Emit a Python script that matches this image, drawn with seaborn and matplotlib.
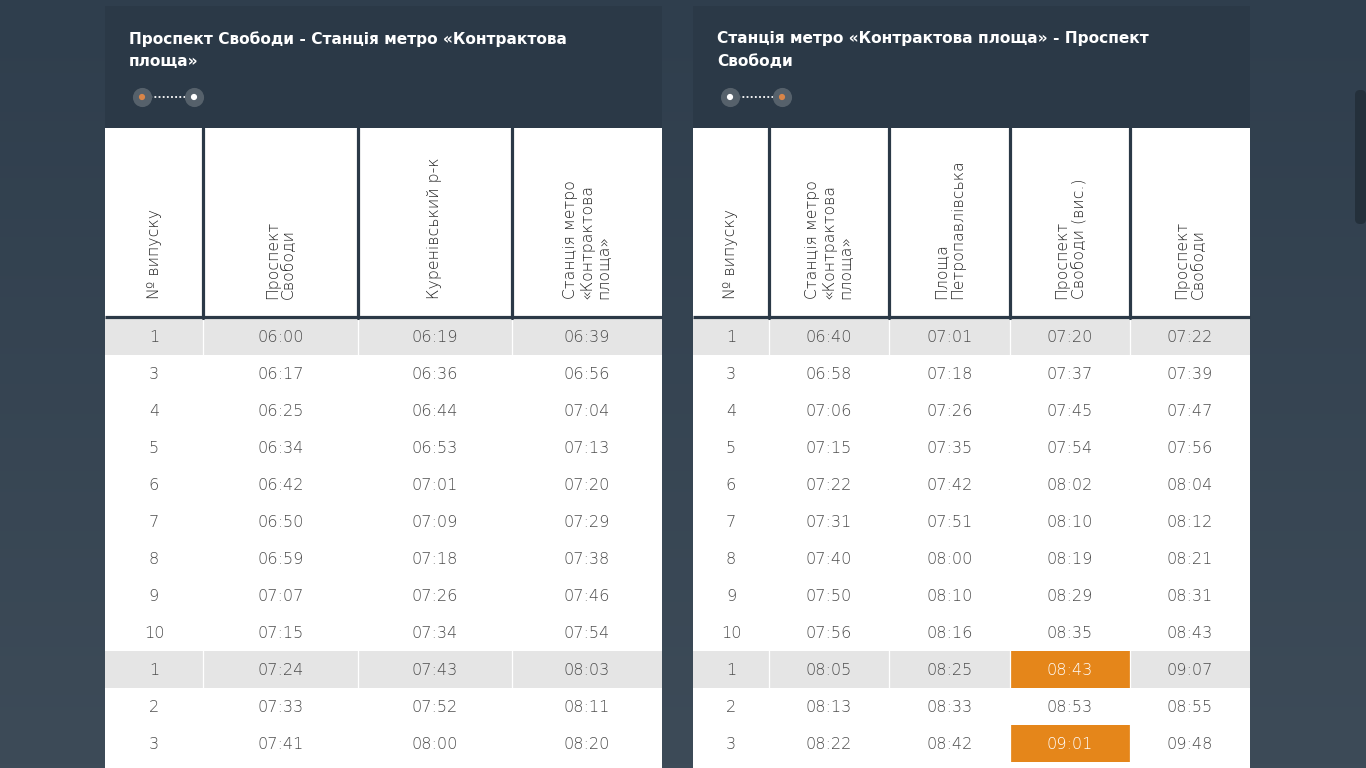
import numpy as np
import matplotlib.pyplot as plt
import seaborn as sns
from matplotlib.colors import ListedColormap, LinearSegmentedColormap
from matplotlib.patches import Rectangle, FancyBboxPatch

# Timetable data
left_title = ["Проспект Свободи - Станція метро «Контрактова", "площа»"]
left_headers = ["№ випуску", "Проспект\nСвободи", "Куренівський р-к",
                "Станція метро\n«Контрактова\nплоща»"]
left_num = ["1", "3", "4", "5", "6", "7", "8", "9", "10", "1", "2", "3"]
left_t1 = ["06:00", "06:17", "06:25", "06:34", "06:42", "06:50", "06:59", "07:07", "07:15", "07:24", "07:33", "07:41"]
left_t2 = ["06:19", "06:36", "06:44", "06:53", "07:01", "07:09", "07:18", "07:26", "07:34", "07:43", "07:52", "08:00"]
left_t3 = ["06:39", "06:56", "07:04", "07:13", "07:20", "07:29", "07:38", "07:46", "07:54", "08:03", "08:11", "08:20"]

right_title = ["Станція метро «Контрактова площа» - Проспект", "Свободи"]
right_headers = ["№ випуску", "Станція метро\n«Контрактова\nплоща»", "Площа\nПетропавлівська",
                 "Проспект\nСвободи (вис.)", "Проспект\nСвободи"]
right_num = ["1", "3", "4", "5", "6", "7", "8", "9", "10", "1", "2", "3"]
right_t1 = ["06:40", "06:58", "07:06", "07:15", "07:22", "07:31", "07:40", "07:50", "07:56", "08:05", "08:13", "08:22"]
right_t2 = ["07:01", "07:18", "07:26", "07:35", "07:42", "07:51", "08:00", "08:10", "08:16", "08:25", "08:33", "08:42"]
right_t3 = ["07:20", "07:37", "07:45", "07:54", "08:02", "08:10", "08:19", "08:29", "08:35", "08:43", "08:53", "09:01"]
right_t4 = ["07:22", "07:39", "07:47", "07:56", "08:04", "08:12", "08:21", "08:31", "08:43", "09:07", "08:55", "09:48"]
# (column, row) cells marked orange
right_marked = [(3, 9), (3, 11)]

sns.set_theme(style="white")
plt.rcParams['font.family'] = ['DejaVu Sans']

DARK = "#2b3947"
GRAY_ROW = "#e5e5e5"
ORANGE = "#e5861a"
TXT = "#4d4d4d"

fig = plt.figure(figsize=(13.66, 7.68), dpi=100)
ax = fig.add_axes([0, 0, 1, 1])
ax.set_xlim(0, 1366)
ax.set_ylim(768, 0)
ax.axis('off')

# page background gradient
bg = LinearSegmentedColormap.from_list('bg', ['#2f3e4d', '#3d4b58'])
ax.imshow(np.linspace(0, 1, 256).reshape(-1, 1), extent=[0, 1366, 768, 0],
          cmap=bg, aspect='auto', zorder=0)

# scrollbar
ax.add_patch(FancyBboxPatch((1355, 90), 11, 134, boxstyle="round,pad=0,rounding_size=5",
                            fc="#24303b", ec="none", zorder=1))

ROW_TOP = 318
ROW_H = 37


def draw_panel(edges, title, headers, columns, marked, orange_right):
    x0, x1 = edges[0], edges[-1]
    # header block
    ax.add_patch(Rectangle((x0, 6), x1 - x0, 122, fc=DARK, ec="none", zorder=1))
    for k, line in enumerate(title):
        ax.text(x0 + 24, 39 + 23 * k, line, color="white", fontsize=11.1, fontweight="bold",
                va="center", ha="left", zorder=3)
    # route icon
    ix = [x0 + 37, x0 + 89]
    ax.plot(ix, [97, 97], color="white", lw=1.3, ls=(0, (1, 1.3)), zorder=3)
    ax.scatter(ix, [97, 97], s=190, color="#56616b", zorder=4, linewidths=0)
    dots = ["white", "#d98548"] if orange_right else ["#d98548", "white"]
    ax.scatter(ix, [97, 97], s=20, color=dots, zorder=5, linewidths=0)

    # table head
    ax.add_patch(Rectangle((x0, 128), x1 - x0, 640, fc="white", ec="none", zorder=1))
    for i, h in enumerate(headers):
        cx = (edges[i] + edges[i + 1]) / 2
        ax.text(cx, 299, h, rotation=90, ha="center", va="bottom", multialignment="left",
                fontsize=11.3, color="#262626", fontweight="light", linespacing=1.12, zorder=3)

    # table body cells via pcolormesh
    n = len(columns[0])
    state = np.zeros((n + 1, len(columns)))
    for r, v in enumerate(columns[0]):
        if v == "1":
            state[r, :] = 1
    for c, r in marked:
        state[r, c] = 2
    yedges = ROW_TOP + ROW_H * np.arange(n + 2)
    cmap = ListedColormap(["white", GRAY_ROW, ORANGE])
    ax.pcolormesh(edges, yedges, state, cmap=cmap, vmin=0, vmax=2, zorder=1.5)
    for e in edges[1:-1]:
        ax.plot([e, e], [ROW_TOP, 768], color="white", lw=0.9, zorder=2)
        ax.plot([e, e], [128, ROW_TOP], color=DARK, lw=2.3, zorder=2)
    ax.plot([x0, x1], [ROW_TOP - 1, ROW_TOP - 1], color=DARK, lw=2.3, zorder=2,
            solid_capstyle="butt")

    for c, col in enumerate(columns):
        cx = (edges[c] + edges[c + 1]) / 2
        for r, v in enumerate(col):
            color = "white" if (c, r) in marked else TXT
            ax.text(cx, ROW_TOP + ROW_H * r + ROW_H / 2 + 1, v, ha="center", va="center",
                    fontsize=11.6, color=color, fontweight="light", zorder=3)


draw_panel([105, 203, 358, 512, 662], left_title, left_headers,
           [left_num, left_t1, left_t2, left_t3], [], False)
draw_panel([693, 769, 889, 1010, 1130, 1250], right_title, right_headers,
           [right_num, right_t1, right_t2, right_t3, right_t4], right_marked, True)

plt.savefig("out.png", dpi=100)
